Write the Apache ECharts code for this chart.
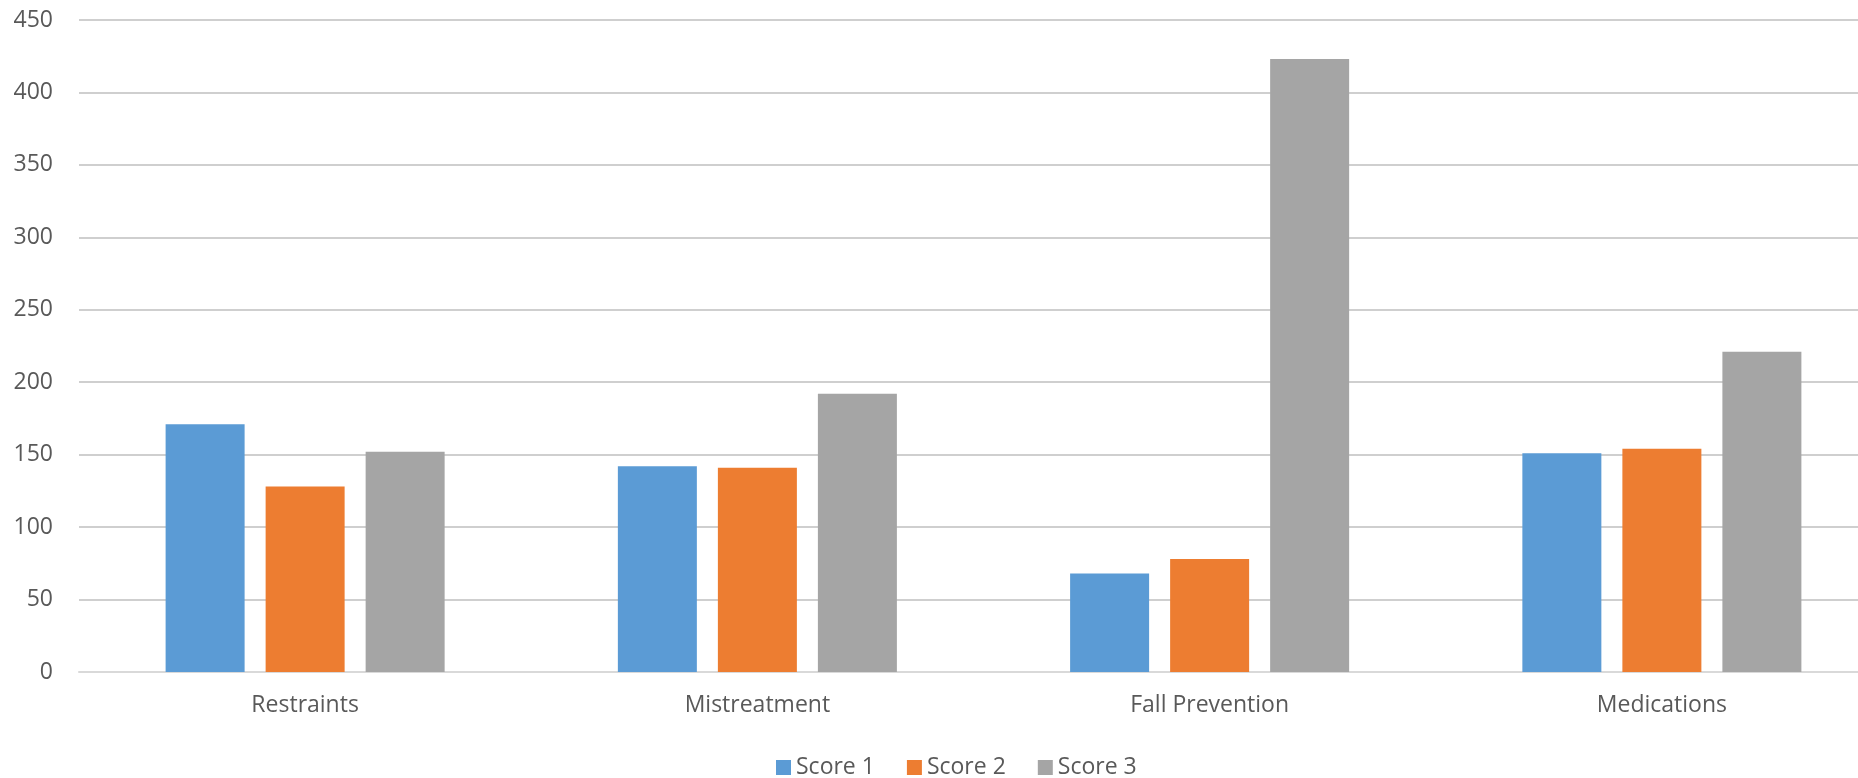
<!DOCTYPE html>
<html>
<head>
<meta charset="utf-8">
<script src="https://cdn.jsdelivr.net/npm/echarts@6/dist/echarts.min.js"></script>
<style>
html,body{margin:0;padding:0;background:#fff;}
#main{width:1858px;height:778px;}
</style>
</head>
<body>
<div id="main"></div>
<script>
const categories = ["Restraints", "Mistreatment", "Fall Prevention", "Medications"];
const score1 = [171, 142, 68, 151];
const score2 = [128, 141, 78, 154];
const score3 = [152, 192, 423, 221];
const seriesNames = ["Score 1", "Score 2", "Score 3"];
const yTicks = { min: 0, max: 450, interval: 50 };

const colors = ["#5B9BD5", "#ED7D31", "#A5A5A5"];
const font = "'Open Sans', 'Liberation Sans', sans-serif";
const chart = echarts.init(document.getElementById('main'), null, {renderer: 'canvas'});
const data = [score1, score2, score3];
chart.setOption({
  animation: false,
  backgroundColor: '#fff',
  color: colors,
  grid: { left: 79, top: 20, right: -30, height: 652, containLabel: false, outerBoundsMode: 'none' },
  legend: {
    left: 771, top: 751,
    itemWidth: 15, itemHeight: 15, itemGap: 32,
    icon: 'rect',
    textStyle: { color: '#595959', fontSize: 23, fontFamily: font },
    data: seriesNames
  },
  xAxis: {
    type: 'category',
    data: categories,
    axisLine: { show: true, lineStyle: { color: '#D9D9D9', width: 2 } },
    axisTick: { show: false },
    axisLabel: { color: '#595959', fontSize: 23, fontFamily: font, margin: 22 },
    splitLine: { show: false }
  },
  yAxis: {
    type: 'value',
    min: yTicks.min, max: yTicks.max, interval: yTicks.interval,
    axisLine: { show: false },
    axisTick: { show: false },
    axisLabel: { color: '#595959', fontSize: 23, fontFamily: font, margin: 26 },
    splitLine: { lineStyle: { color: '#BFBFBF', width: 1.5 } }
  },
  series: seriesNames.map((n, i) => ({
    name: n,
    type: 'bar',
    data: data[i],
    barWidth: 79,
    barGap: '26.6%',
    itemStyle: { color: colors[i] }
  }))
});
</script>
</body>
</html>
